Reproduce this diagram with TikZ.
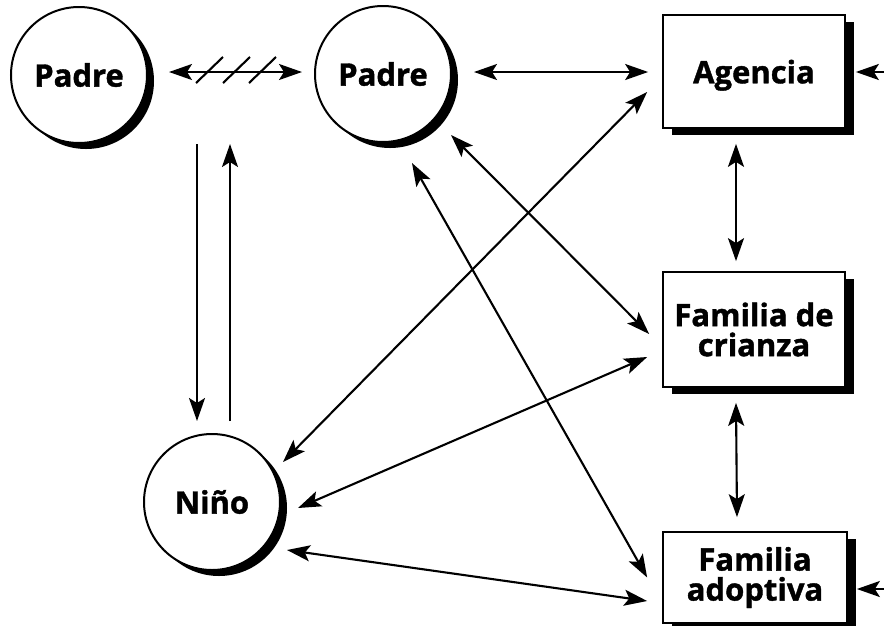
\documentclass[tikz,border=0pt]{standalone}
\usepackage{fontspec}
\newfontfamily\lbl{Open Sans}[BoldFeatures={FakeBold=1.3}]
\usetikzlibrary{arrows.meta,calc,shadows}
\begin{document}
\begin{tikzpicture}[x=1pt,y=-1pt,
  lab/.style={font=\lbl\bfseries\fontsize{31}{30}\selectfont, text=black},
  circ/.style={lab, circle, draw, line width=2pt, fill=white, minimum size=136pt, inner sep=0pt,
    drop shadow={shadow xshift=7pt, shadow yshift=-6pt, fill=black, opacity=1}},
  boxn/.style={lab, rectangle, draw, line width=1.7pt, fill=white, align=center, inner sep=0pt,
    minimum width=182pt, drop shadow={shadow xshift=9pt, shadow yshift=-7pt, fill=black, opacity=1}},
  arr/.style={line width=2.1pt, {Stealth[length=23pt,width=16pt,inset=5pt]}-{Stealth[length=23pt,width=16pt,inset=5pt]}},
  arro/.style={line width=2.1pt, -{Stealth[length=23pt,width=16pt,inset=5pt]}},
  slash/.style={line width=2.1pt}]
\useasboundingbox (0,0) rectangle (884,625);
\node[circ] (p1) at (79,75) {Padre};
\node[circ] (p2) at (383,74) {Padre};
\node[circ] (ni) at (212,502) {Niño};
\node[boxn, minimum height=113pt, text depth=0pt] (ag) at (754,71.5) {Agencia};
\node[boxn, minimum height=115pt] (cr) at (754,329.5) {Familia de\\crianza};
\node[boxn, minimum height=91pt, minimum width=184pt] (ad) at (755,577.5) {Familia\\adoptiva};
\coordinate (agin) at (884,72);
\coordinate (adin) at (884,589);
% Padre - Padre (broken)
\draw[arr] ($(p1.east)+(21,-3)$) -- ($(p2.west)+(-12,-2)$);
\draw[slash] ($(p1.east)+(48,8)$) -- ++(27,-26);
\draw[slash] ($(p1.east)+(75,8)$) -- ++(27,-26);
\draw[slash] ($(p1.east)+(101,8)$) -- ++(27,-26);
% Padre - Agencia
\draw[arr] ($(p2.east)+(22,-2)$) -- ($(ag.west)+(-14,0.5)$);
% Padre1 <-> Nino
\draw[arro] ($(p1.south)+(118,0)$) -- ($(ni.north)+(-15,-12)$);
\draw[arro] ($(ni.north)+(18,-12)$) -- ($(p1.south)+(151,0)$);
% verticals on right
\draw[arr] ($(ag.south)+(-18,15)$) -- ($(cr.north)+(-18,-10)$);
\draw[arr] ($(cr.south)+(-18,15)$) -- ($(ad.north)+(-18,-14)$);
% diagonals
\draw[arr] ($(p2.center)+(68,61)$) -- ($(cr.west)+(-13,4.5)$);
\draw[arr] ($(p2.center)+(29,89)$) -- ($(ad.west)+(-15,0)$);
\draw[arr] ($(ni.center)+(71,-40)$) -- ($(ag.west)+(-15,20.5)$);
\draw[arr] ($(ni.center)+(86,6)$) -- ($(cr.west)+(-15,27.5)$);
\draw[arr] ($(ni.center)+(75,48)$) -- ($(ad.west)+(-15,23.5)$);
% incoming from right edge
\draw[arro] (agin) -- ($(ag.east)+(10,0.5)$);
\draw[arro] (adin) -- ($(ad.east)+(9,11.5)$);
\end{tikzpicture}
\end{document}
